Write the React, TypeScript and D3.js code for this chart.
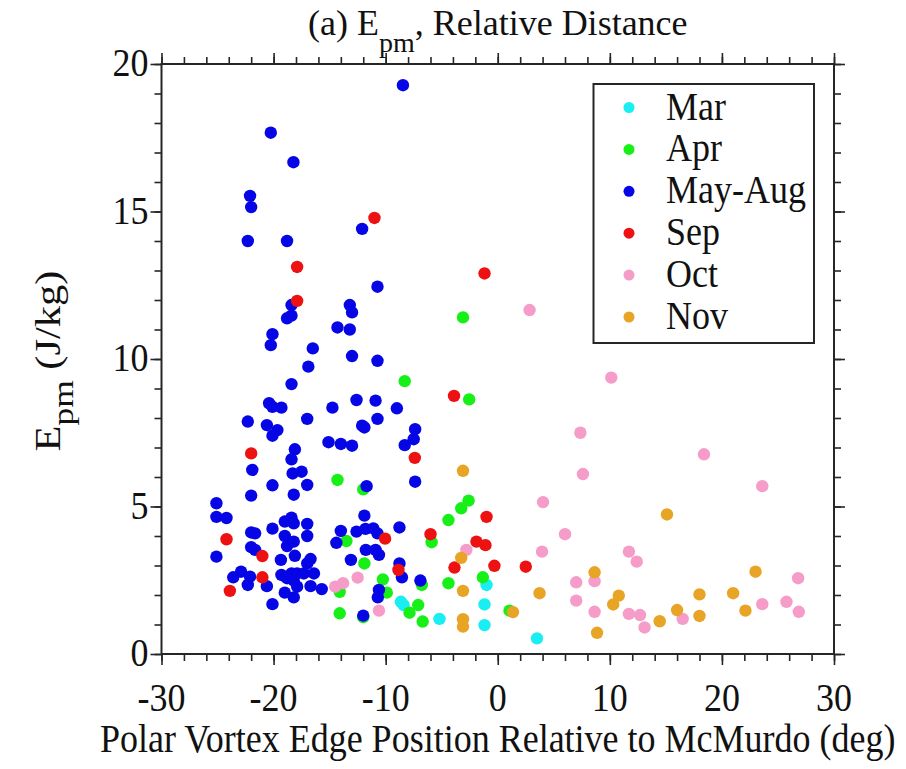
import React, { useEffect, useRef } from "react";
import * as d3 from "d3";

// [relative distance (deg), Epm (J/kg)]
const marPts: [number, number][] = [
  [-8.64, 1.77], [-8.4, 1.66], [-1.0, 2.34], [-1.18, 1.68], [-5.2, 1.19], [-1.18, 0.98], [3.5, 0.53],
];

const aprPts: [number, number][] = [
  [-3.1, 11.41], [-8.3, 9.25], [-2.55, 8.63], [-14.3, 5.9], [-12.0, 5.58], [-2.6, 5.2], [-3.26, 4.94],
  [-4.4, 4.54], [-5.9, 3.79], [-13.5, 3.83], [-11.9, 3.07], [-10.25, 2.53], [-14.1, 2.11], [-9.9, 2.08],
  [-14.1, 1.38], [-12.0, 1.25], [-1.33, 2.6], [-6.77, 2.34], [-4.4, 2.4], [-7.1, 1.66], [-7.87, 1.4],
  [1.05, 1.47], [-6.7, 1.1],
];

const mayAugPts: [number, number][] = [
  [-8.46, 19.28], [-20.25, 17.67], [-18.23, 16.67], [-22.1, 15.53], [-22.0, 15.15], [-12.1, 14.41],
  [-22.3, 14.0], [-18.8, 14.0], [-10.73, 12.45], [-18.4, 11.83], [-13.2, 11.83], [-13.0, 11.58],
  [-18.4, 11.47], [-18.8, 11.38], [-14.3, 11.07], [-13.2, 11.0], [-20.1, 10.84], [-20.25, 10.47],
  [-16.5, 10.36], [-13.0, 10.1], [-10.73, 9.94], [-16.9, 9.74], [-18.4, 9.15], [-12.6, 8.61],
  [-10.9, 8.59], [-20.4, 8.5], [-20.1, 8.38], [-19.3, 8.35], [-14.75, 8.35], [-9.0, 8.33],
  [-10.73, 7.97], [-22.3, 7.88], [-17.0, 7.97], [-20.6, 7.76], [-12.1, 7.74], [-11.9, 7.68],
  [-19.66, 7.59], [-7.37, 7.62], [-20.1, 7.4], [-7.5, 7.28], [-15.1, 7.18], [-14.0, 7.12],
  [-8.3, 7.08], [-13.0, 7.06], [-18.1, 6.94], [-18.4, 6.6], [-21.9, 6.24], [-17.5, 6.18],
  [-18.3, 6.12], [-7.37, 5.84], [-11.7, 5.69], [-20.1, 5.72], [-17.0, 5.73], [-22.0, 5.37],
  [-18.2, 5.4], [-25.1, 5.11], [-25.1, 4.65], [-24.2, 4.61], [-18.4, 4.62], [-19.0, 4.49],
  [-18.2, 4.43], [-17.0, 4.41], [-11.9, 4.69], [-8.77, 4.29], [-20.1, 4.25], [-22.0, 4.12],
  [-21.65, 4.09], [-14.0, 4.17], [-12.6, 4.15], [-11.8, 4.24], [-11.1, 4.26], [-10.73, 4.09],
  [-19.0, 4.0], [-17.0, 4.0], [-14.4, 3.77], [-18.8, 3.66], [-18.2, 3.81], [-22.0, 3.62],
  [-21.65, 3.53], [-11.77, 3.53], [-10.9, 3.53], [-10.6, 3.36], [-25.1, 3.3], [-18.1, 3.33],
  [-19.35, 3.19], [-16.7, 3.22], [-13.1, 3.19], [-17.0, 3.07], [-8.77, 3.07], [-22.9, 2.79],
  [-19.3, 2.68], [-18.4, 2.73], [-17.9, 2.73], [-17.3, 2.73], [-16.4, 2.73], [-23.6, 2.6],
  [-22.1, 2.62], [-18.8, 2.57], [-18.2, 2.49], [-8.55, 2.6], [-6.9, 2.49], [-22.3, 2.34],
  [-20.6, 2.3], [-17.9, 2.28], [-16.7, 2.3], [-15.7, 2.2], [-10.6, 2.17], [-19.0, 2.08],
  [-18.2, 1.92], [-10.7, 1.92], [-20.1, 1.69], [-12.0, 1.3],
];

const sepPts: [number, number][] = [
  [-11.0, 14.78], [-17.9, 13.12], [-1.18, 12.9], [-17.9, 11.97], [-3.9, 8.75], [-22.0, 6.8],
  [-7.4, 6.65], [-6.0, 4.06], [-1.0, 4.65], [-10.05, 3.91], [-24.2, 3.89], [-1.9, 3.81],
  [-1.1, 3.69], [-21.0, 3.32], [-3.86, 2.93], [-0.3, 2.99], [2.5, 2.96], [-8.86, 2.85],
  [-21.0, 2.6], [-23.9, 2.14],
];

const octPts: [number, number][] = [
  [2.84, 11.66], [10.13, 9.37], [7.37, 7.5], [18.4, 6.77], [7.6, 6.1], [23.6, 5.69], [4.04, 5.15],
  [6.0, 4.06], [-2.8, 3.53], [3.95, 3.47], [11.7, 3.47], [12.4, 3.13], [26.8, 2.57], [7.0, 2.43],
  [8.64, 2.47], [7.0, 1.81], [23.6, 1.69], [25.76, 1.77], [8.64, 1.43], [26.86, 1.43], [11.7, 1.36],
  [12.7, 1.32], [16.5, 1.19], [13.1, 0.9], [-12.5, 2.59], [-14.5, 2.28], [-13.8, 2.4], [-10.6, 1.47],
];

const novPts: [number, number][] = [
  [-3.1, 6.21], [15.1, 4.73], [-3.26, 3.26], [8.64, 2.77], [23.0, 2.79], [-3.1, 2.14], [3.73, 2.06],
  [10.8, 1.98], [10.3, 1.68], [18.0, 2.02], [21.0, 2.06], [16.0, 1.49], [22.1, 1.47], [18.0, 1.29],
  [14.45, 1.11], [8.86, 0.72], [1.36, 1.42], [-3.1, 1.18], [-3.1, 0.93],
];

const seriesNames = ["Mar", "Apr", "May-Aug", "Sep", "Oct", "Nov"];
const seriesColors = ["#19eef2", "#17f017", "#0505e6", "#ee1111", "#f59cc8", "#e8a425"];
const seriesData = [marPts, aprPts, mayAugPts, sepPts, octPts, novPts];

const xMajor = [-30, -20, -10, 0, 10, 20, 30];
const yMajor = [0, 5, 10, 15, 20];

const FONT = "Liberation Serif, Tinos, DejaVu Serif, serif";
const SY = 1.12; // the figure's text is a bit taller than wide

const App = () => {
  const ref = useRef<SVGSVGElement>(null);

  useEffect(() => {
    draw();
  });

  const draw = () => {
    const left = 161.5, right = 834, top = 64, bottom = 654;
    const svg = d3.select(ref.current);
    svg.selectAll("*").remove();

    const x = d3.scaleLinear().domain([-30, 30]).range([left, right]);
    const y = d3.scaleLinear().domain([0, 20]).range([bottom, top]);

    const xMinor = d3.range(-30, 31, 2);
    const yMinor = d3.range(0, 21, 1);

    const axisColor = "#262626";
    const styleAxis = (g: any) => {
      g.select(".domain").remove();
      g.selectAll("line").attr("stroke", axisColor).attr("stroke-width", 1.6);
    };
    const none = () => "";

    // ticks (outward) on all four sides
    const tickAxes = [
      [d3.axisBottom(x), `translate(0,${bottom})`, xMinor, xMajor],
      [d3.axisTop(x), `translate(0,${top})`, xMinor, xMajor],
      [d3.axisLeft(y), `translate(${left},0)`, yMinor, yMajor],
      [d3.axisRight(y), `translate(${right},0)`, yMinor, yMajor],
    ] as any[];
    tickAxes.forEach(([ax, tr, minor, major]) => {
      svg.append("g").attr("transform", tr)
        .call(ax.tickValues(minor).tickSize(7).tickFormat(none)).call(styleAxis);
      svg.append("g").attr("transform", tr)
        .call(ax.tickValues(major).tickSize(11).tickFormat(none)).call(styleAxis);
    });

    // tick labels
    const txt = (px: number, py: number, anchor: string, sy = SY) =>
      svg.append("text")
        .attr("transform", `translate(${px},${py}) scale(1,${sy})`)
        .attr("text-anchor", anchor)
        .attr("font-family", FONT).attr("font-size", 36).attr("fill", "#111");

    xMajor.forEach((v) => {
      txt(x(v), bottom + 57, "middle").text(String(v));
    });
    yMajor.forEach((v) => {
      txt(left - 13, y(v) + 12, "end").text(String(v));
    });

    // frame
    svg.append("rect")
      .attr("x", left).attr("y", top)
      .attr("width", right - left).attr("height", bottom - top)
      .attr("fill", "none").attr("stroke", axisColor).attr("stroke-width", 2);

    // points
    seriesData.forEach((pts, i) => {
      svg.append("g")
        .selectAll("circle")
        .data(pts)
        .join("circle")
        .attr("cx", (d) => x(d[0]))
        .attr("cy", (d) => y(d[1]))
        .attr("r", 6.2)
        .attr("fill", seriesColors[i]);
    });

    // legend
    svg.append("rect")
      .attr("x", 593.5).attr("y", 84)
      .attr("width", 220.5).attr("height", 259)
      .attr("fill", "white").attr("stroke", axisColor).attr("stroke-width", 2);
    seriesNames.forEach((name, i) => {
      const cy = 107.5 + i * 41.9;
      svg.append("circle").attr("cx", 629).attr("cy", cy).attr("r", 5.5).attr("fill", seriesColors[i]);
      txt(666, cy + 12, "start").text(name);
    });

    // title
    const title = txt((left + right) / 2, 35, "middle", 1);
    title.append("tspan").text("(a) E");
    title.append("tspan").attr("dy", 17).attr("font-size", 28).text("pm");
    title.append("tspan").attr("dy", -17).text(", Relative Distance");

    // x label
    txt((left + right) / 2, 752, "middle")
      .text("Polar Vortex Edge Position Relative to McMurdo (deg)");

    // y label
    const yl = svg.append("text")
      .attr("transform", `translate(60,${(top + bottom) / 2 + 2}) scale(1,1.18) rotate(-90)`)
      .attr("text-anchor", "middle")
      .attr("font-family", FONT).attr("font-size", 36).attr("fill", "#111");
    yl.append("tspan").text("E");
    yl.append("tspan").attr("dy", 13).attr("font-size", 30).text("pm");
    yl.append("tspan").attr("dy", -13).text(" (J/kg)");
  };

  return (
    <svg
      ref={ref}
      width={906}
      height={769}
      style={{ position: "absolute", left: 0, top: 0, background: "white" }}
    />
  );
};

export default App;
